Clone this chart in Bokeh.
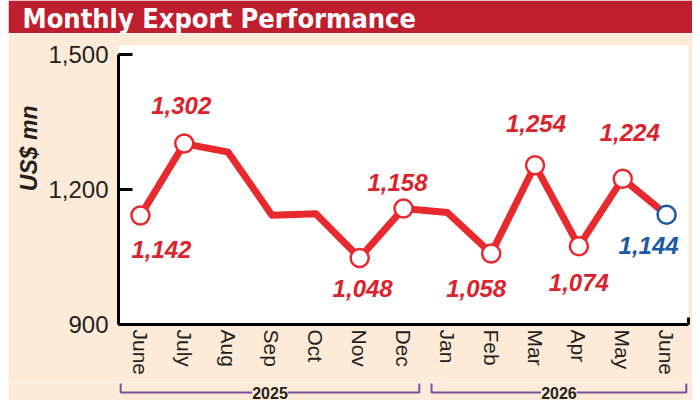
from bokeh.plotting import figure
from bokeh.models import Range1d, FixedTicker, NumeralTickFormatter, Title, Label, ColumnDataSource
from bokeh.layouts import column
from bokeh.embed import file_html
from bokeh.resources import INLINE
from bokeh.core.properties import value

# ---------------- data ----------------
title_text = "Monthly Export Performance"
y_label = "US$ mn"
months = ["June", "July", "Aug", "Sep", "Oct", "Nov", "Dec",
          "Jan", "Feb", "Mar", "Apr", "May", "June"]
years = ["2025"] * 7 + ["2026"] * 6
exports = [1142, 1302, 1283, 1143, 1146, 1048, 1158,
           1149, 1058, 1254, 1074, 1224, 1144]
labeled = [True, True, False, False, False, True, True,
           False, True, True, True, True, True]
latest = [False] * 12 + [True]
y_ticks = [900, 1200, 1500]

# ---------------- style ----------------
RED_BAND = "#BF1E2E"
PEACH = "#FDEBD7"
LINE_RED = "#E8292D"
LABEL_RED = "#D9232D"
BLUE = "#1C5AA5"
PURPLE = "#7B4F9D"
TEXT = "#231F20"
FONT = "Liberation Sans"

# label offsets in screen pixels (dx, dy down) for labelled points
label_dx = [21, -3, 0, 0, 0, 3, -6, 0, -15, 1, 0, 7, -18]
label_dy = [34, -38, 0, 0, 0, 31, -26, 0, 35, -42, 36, -46, 31]

W = 684
FRAME_L, FRAME_R = 110, 4

xs = list(range(len(months)))

# ---------------- title band ----------------
t = figure(width=W, height=33, title=title_text, x_range=Range1d(0, 1), y_range=Range1d(0, 1),
           x_axis_type=None, y_axis_type=None, output_backend="svg",
           toolbar_location=None, min_border_left=FRAME_L, min_border_right=FRAME_R,
           min_border_top=0, min_border_bottom=0,
           background_fill_color=RED_BAND, border_fill_color=RED_BAND,
           outline_line_color=None)
t.grid.visible = False
t.title.align = "left"
t.title.offset = -96
t.title.standoff = 0
t.title.text_color = "white"
t.title.text_font = "DejaVu Sans Condensed"
t.title.text_font_size = "27px"
t.title.text_font_style = "bold"

# ---------------- main chart ----------------
p = figure(width=W, height=349, x_range=Range1d(-0.5, len(months) - 0.5),
           y_range=Range1d(900, 1520), output_backend="svg", toolbar_location=None,
           min_border_left=FRAME_L, min_border_right=FRAME_R,
           min_border_top=12, min_border_bottom=58,
           background_fill_color="white", border_fill_color=PEACH,
           outline_line_color=None)
p.xgrid.visible = False
p.ygrid.visible = False

yax = p.yaxis[0]
yax.ticker = FixedTicker(ticks=y_ticks)
yax.formatter = NumeralTickFormatter(format="0,0")
yax.bounds = (900, 1500)
yax.axis_line_width = 3
yax.axis_line_color = "black"
yax.major_tick_in = 14
yax.major_tick_out = 0
yax.major_tick_line_width = 3
yax.major_tick_line_color = "black"
yax.minor_tick_line_color = None
yax.major_label_text_font = FONT
yax.major_label_text_font_size = "24px"
yax.major_label_text_color = TEXT
yax.major_label_standoff = 10

xax = p.xaxis[0]
xax.ticker = FixedTicker(ticks=xs, minor_ticks=[len(months) - 0.5])
xax.major_label_overrides = {i: m for i, m in enumerate(months)}
xax.major_label_orientation = "vertical"
xax.axis_line_width = 3
xax.axis_line_color = "black"
xax.major_tick_in = 0
xax.major_tick_out = 0
xax.minor_tick_in = 7
xax.minor_tick_out = 0
xax.minor_tick_line_width = 3
xax.minor_tick_line_color = "black"
xax.major_label_text_font = FONT
xax.major_label_text_font_size = "21px"
xax.major_label_text_color = TEXT
xax.major_label_standoff = 5

p.add_layout(Title(text=y_label, align="right", offset=60, standoff=4,
                   vertical_align="top",
                   text_font=FONT, text_font_size="23px",
                   text_font_style="bold italic", text_color=TEXT), "left")

line_src = ColumnDataSource(dict(x=xs, y=exports))
p.line("x", "y", source=line_src, line_color=LINE_RED, line_width=7,
       line_join="round", line_cap="round")

mk = [i for i in xs if labeled[i]]
mark_src = ColumnDataSource(dict(
    x=[xs[i] for i in mk], y=[exports[i] for i in mk],
    color=[BLUE if latest[i] else LINE_RED for i in mk]))
p.scatter("x", "y", source=mark_src, marker="circle", size=18,
          fill_color="white", line_color="color", line_width=2.5)

lab_src = ColumnDataSource(dict(
    x=[xs[i] for i in mk], y=[exports[i] for i in mk],
    text=[f"{exports[i]:,}" for i in mk],
    dx=[label_dx[i] for i in mk], dy=[label_dy[i] for i in mk],
    color=[BLUE if latest[i] else LABEL_RED for i in mk]))
p.text(x="x", y="y", text="text", source=lab_src, x_offset="dx", y_offset="dy",
       text_color="color", text_font=value(FONT), text_font_size="24px",
       text_font_style="bold italic", text_align="center", text_baseline="middle")

# ---------------- year brackets ----------------
b = figure(width=W, height=18, x_range=p.x_range, y_range=Range1d(0, 18),
           x_axis_type=None, y_axis_type=None, output_backend="svg",
           toolbar_location=None, min_border_left=FRAME_L, min_border_right=FRAME_R,
           min_border_top=0, min_border_bottom=0,
           background_fill_color=PEACH, border_fill_color=PEACH,
           outline_line_color=None)
b.grid.visible = False

groups = []
for yr in dict.fromkeys(years):
    idx = [i for i, y in enumerate(years) if y == yr]
    groups.append((yr, idx[0], idx[-1]))

bx, by = [], []
for k, (yr, i0, i1) in enumerate(groups):
    x0 = i0 - (0.45 if k == 0 else 0.36)
    x1 = i1 + (0.45 if k == len(groups) - 1 else 0.36)
    bx.append([x0, x0, x1, x1])
    by.append([17, 8, 8, 17])
    b.add_layout(Label(x=(x0 + x1) / 2, y=8, text=yr, text_align="center",
                       text_baseline="middle", text_font=FONT,
                       text_font_size="16px", text_font_style="bold",
                       text_color=TEXT, background_fill_color=PEACH))
b.multi_line(bx, by, line_color=PURPLE, line_width=2)

layout = column(t, p, b, margin=(0, 0, 0, 8))
open("out.html", "w").write(file_html(layout, INLINE))
